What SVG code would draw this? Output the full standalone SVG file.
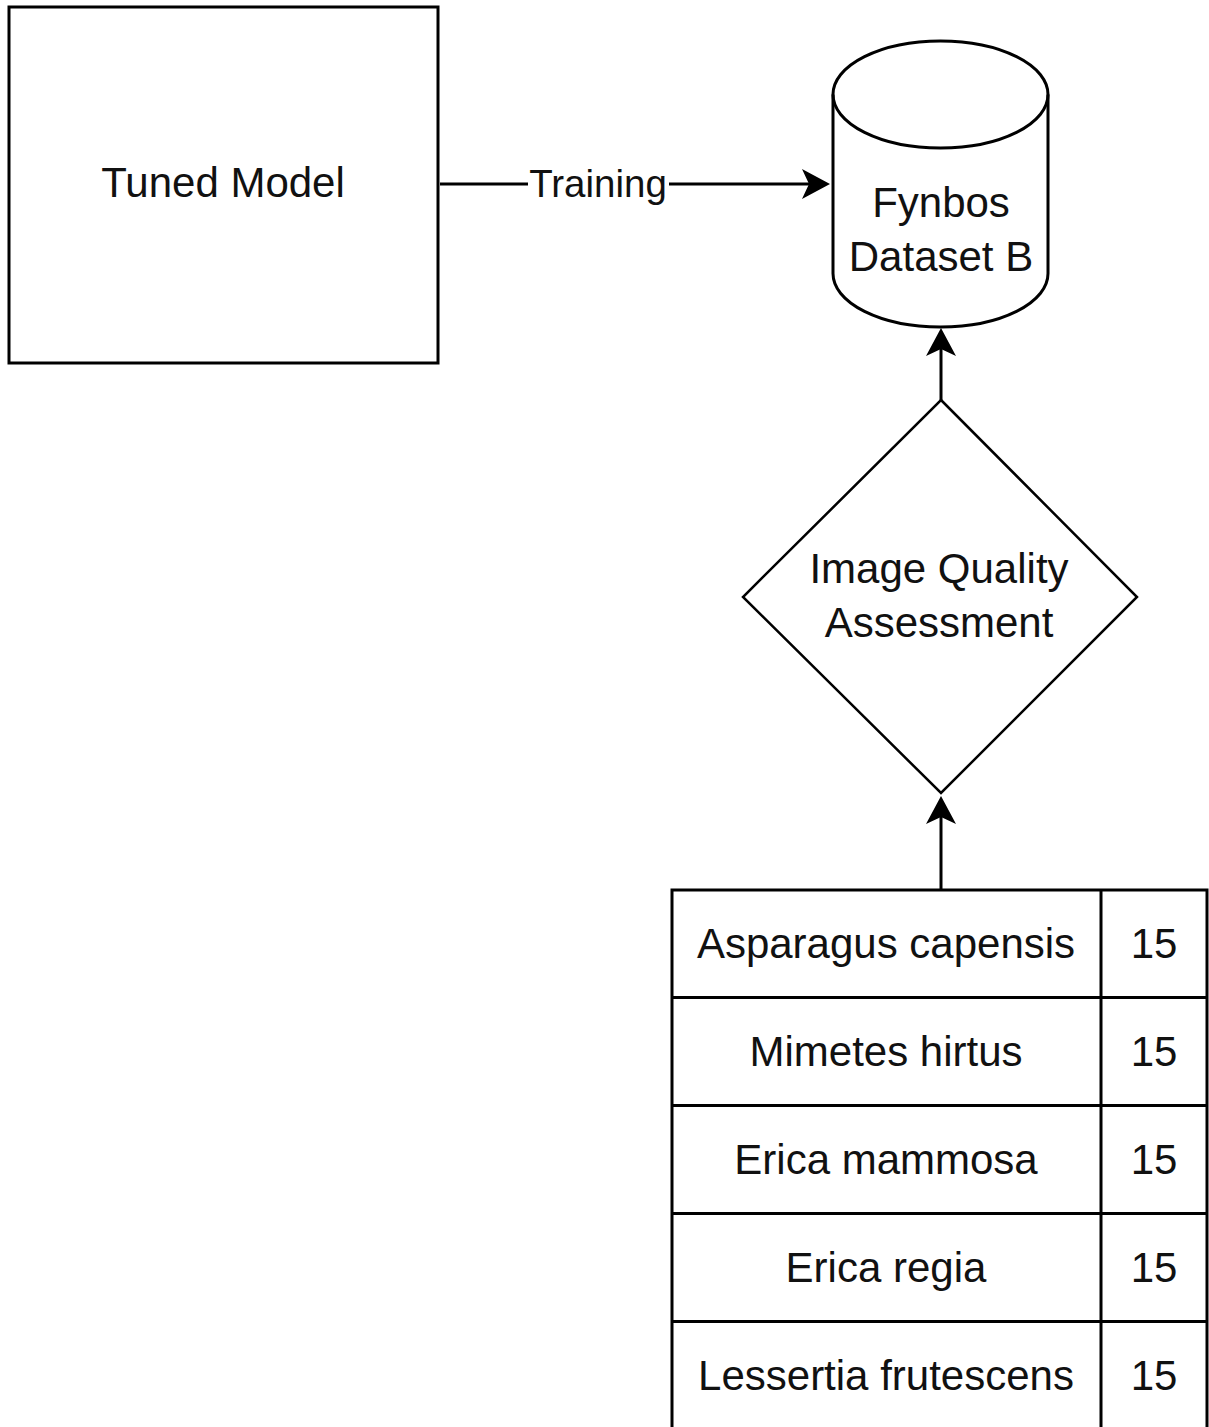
<svg xmlns="http://www.w3.org/2000/svg" width="1209" height="1427" viewBox="0 0 1209 1427">
<style>
.shape{fill:#fff;stroke:#000;stroke-width:3}
.line{fill:none;stroke:#000;stroke-width:3}
.t{font-family:"Liberation Sans",Arial,sans-serif;font-size:42px;fill:#111;text-anchor:middle}
.lbl{font-family:"Liberation Sans",Arial,sans-serif;font-size:38.5px;fill:#111;text-anchor:middle}
</style>
<defs>
<marker id="arr" viewBox="0 0 28 30" refX="7" refY="15" markerWidth="28" markerHeight="30" markerUnits="userSpaceOnUse" orient="auto">
<path d="M0,0 L28,15 L0,30 L7,15 Z" fill="#000"/>
</marker>
</defs>
<rect width="1209" height="1427" fill="#fff"/>
<g id="connectors">
<line class="line" x1="440" y1="184" x2="809" y2="184" marker-end="url(#arr)"/>
<rect x="528" y="166" width="141" height="38" fill="#fff"/>
<text class="lbl" x="598" y="197">Training</text>
<line class="line" x1="941" y1="401" x2="941" y2="349" marker-end="url(#arr)"/>
<line class="line" x1="941" y1="890" x2="941" y2="817" marker-end="url(#arr)"/>
</g>
<g id="tuned-model">
<rect class="shape" x="9" y="7" width="429" height="356"/>
<text class="t" x="223" y="197">Tuned Model</text>
</g>
<g id="fynbos-dataset">
<path class="shape" d="M833,94.5 A107.5,53.5 0 0 1 1048,94.5 L1048,273.5 A107.5,53.5 0 0 1 833,273.5 Z"/>
<path class="line" d="M833,94.5 A107.5,53.5 0 0 0 1048,94.5"/>
<text class="t" x="941" y="217">Fynbos</text>
<text class="t" x="941" y="271">Dataset B</text>
</g>
<g id="image-quality">
<polygon class="shape" points="941,400 1137,597 941,793 743,597" style="stroke-width:2.5"/>
<text class="t" x="939" y="583">Image Quality</text>
<text class="t" x="939" y="637">Assessment</text>
</g>
<g id="species-table">
<rect class="shape" x="672" y="890" width="535" height="539"/>
<line class="line" x1="1101" y1="890" x2="1101" y2="1429"/>
<line class="line" x1="672" y1="997.5" x2="1207" y2="997.5"/>
<line class="line" x1="672" y1="1105.5" x2="1207" y2="1105.5"/>
<line class="line" x1="672" y1="1213.5" x2="1207" y2="1213.5"/>
<line class="line" x1="672" y1="1321.5" x2="1207" y2="1321.5"/>
<text class="t" x="886" y="958">Asparagus capensis</text>
<text class="t" x="1154" y="958">15</text>
<text class="t" x="886" y="1066">Mimetes hirtus</text>
<text class="t" x="1154" y="1066">15</text>
<text class="t" x="886" y="1174">Erica mammosa</text>
<text class="t" x="1154" y="1174">15</text>
<text class="t" x="886" y="1282">Erica regia</text>
<text class="t" x="1154" y="1282">15</text>
<text class="t" x="886" y="1390">Lessertia frutescens</text>
<text class="t" x="1154" y="1390">15</text>
</g>
</svg>
